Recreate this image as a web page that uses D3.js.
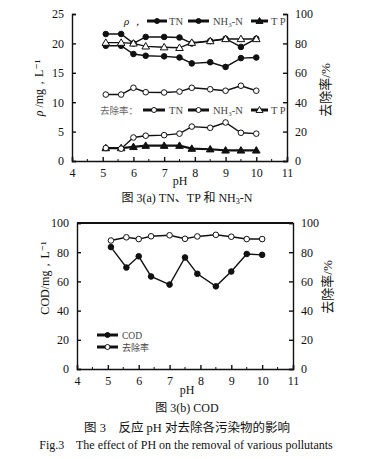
<!DOCTYPE html>
<html>
<head>
<meta charset="utf-8">
<script src="https://cdn.jsdelivr.net/npm/d3@7"></script>
<style>
body{margin:0;background:#fff;}
text{font-family:"Liberation Serif","DejaVu Serif",serif;fill:#111;}
.cjk{font-family:"Liberation Serif","Noto Sans CJK SC",serif;}
</style>
</head>
<body>
<div id="chart"></div>
<script>
// pH values (shared by both panels)
var ph = [5.1, 5.6, 6.0, 6.4, 7.0, 7.5, 7.9, 8.5, 9.0, 9.5, 10.0];

// panel (a): concentrations, mg/L (left axis)
var tnConc  = [21.6, 21.6, 20.0, 21.1, 21.1, 21.0, 20.0, 20.4, 20.8, 19.4, 20.8];
var nh3Conc = [19.6, 19.6, 18.2, 17.9, 17.8, 17.6, 16.6, 16.8, 16.0, 17.5, 17.6];
var tpConc  = [2.2, 2.2, 2.4, 2.6, 2.6, 2.6, 2.1, 2.0, 1.8, 1.8, 1.8];
// panel (a): removal rates, % (right axis)
var tnRate  = [45.2, 45.2, 49.8, 46.8, 46.6, 47.2, 49.8, 48.8, 47.8, 51.2, 47.8];
var nh3Rate = [8.8, 8.4, 16.0, 17.2, 17.6, 18.6, 23.4, 22.6, 26.2, 19.2, 18.6];
var tpRate  = [80.5, 80.5, 80.0, 78.0, 77.4, 77.0, 80.5, 81.6, 83.0, 83.0, 83.0];

// panel (b): COD mg/L (left) and removal % (right)
var codConc = [83.5, 69.5, 77.2, 63.4, 57.8, 76.4, 65.2, 56.6, 66.8, 78.8, 78.2];
var codRate = [88.0, 90.2, 89.0, 90.9, 91.6, 89.2, 90.8, 91.9, 90.6, 89.0, 89.0];

var xTicks = [4, 5, 6, 7, 8, 9, 10, 11];
var leftTicksA = [0, 5, 10, 15, 20, 25];
var rightTicks = [0, 20, 40, 60, 80, 100];

var svg = d3.select("#chart").append("svg")
  .attr("width", 373)
  .attr("height", 459);

function drawAxes(x, yl, yr, lt, hasTop){
  var g = svg.append("g");
  var y0 = yl.range()[0], y1 = yl.range()[1];
  var ax = g.append("g").attr("transform", "translate(0," + y0 + ")")
    .call(d3.axisBottom(x).tickValues(xTicks).tickSize(-4).tickPadding(7).tickFormat(d3.format("d")));
  var al = g.append("g").attr("transform", "translate(" + x.range()[0] + ",0)")
    .call(d3.axisLeft(yl).tickValues(lt).tickSize(-4).tickPadding(8));
  var ar = g.append("g").attr("transform", "translate(" + x.range()[1] + ",0)")
    .call(d3.axisRight(yr).tickValues(rightTicks).tickSize(-4).tickPadding(8));
  [ax, al, ar].forEach(function(a){
    a.select(".domain").attr("stroke", "#111").attr("stroke-width", 1.4);
    a.selectAll(".tick line").attr("stroke", "#111").attr("stroke-width", 1.4);
    a.selectAll(".tick text").attr("font-size", 12).style("font-family", "'Liberation Serif', serif").attr("fill", "#111");
  });
  // minor ticks
  var minorX = d3.range(4.5, 11, 1);
  g.selectAll(".mx").data(minorX).enter().append("line")
    .attr("x1", function(d){ return x(d); }).attr("x2", function(d){ return x(d); })
    .attr("y1", y0).attr("y2", y0 - 2).attr("stroke", "#111");
  if(hasTop){
    g.append("line").attr("x1", x.range()[0]).attr("x2", x.range()[1])
      .attr("y1", y1).attr("y2", y1).attr("stroke", "#111").attr("stroke-width", 2.2);
  }
  return g;
}

function drawSeries(x, y, vals, marker, filled, sw){
  var pts = ph.map(function(p, i){ return [p, vals[i]]; });
  var line = d3.line().x(function(d){ return x(d[0]); }).y(function(d){ return y(d[1]); });
  svg.append("path").datum(pts)
    .attr("d", line).attr("fill", "none").attr("stroke", "#111").attr("stroke-width", sw || 1.4);
  drawMarkers(pts.map(function(d){ return [x(d[0]), y(d[1])]; }), marker, filled);
}

function drawMarkers(pos, marker, filled, r){
  r = r || 2.8;
  pos.forEach(function(p){
    if(marker === "circle"){
      svg.append("circle").attr("cx", p[0]).attr("cy", p[1]).attr("r", r)
        .attr("fill", filled ? "#111" : "#fff").attr("stroke", "#111").attr("stroke-width", 1);
    } else {
      var s = r + 1;
      svg.append("path")
        .attr("d", "M" + p[0] + "," + (p[1] - s) + "L" + (p[0] + s) + "," + (p[1] + s * 0.7) + "L" + (p[0] - s) + "," + (p[1] + s * 0.7) + "Z")
        .attr("fill", filled ? "#111" : "#fff").attr("stroke", "#111").attr("stroke-width", 1);
    }
  });
}

function legendItem(x1, x2, y, marker, filled, tx){
  svg.append("line").attr("x1", x1).attr("x2", x2).attr("y1", y).attr("y2", y)
    .attr("stroke", "#111").attr("stroke-width", 3);
  drawMarkers([[(x1 + x2) / 2, y]], marker, filled, 2.5);
  return svg.append("text").attr("x", tx).attr("y", y + 3.5).attr("font-size", 10.5).style("fill", "#444");
}

// ---------- panel (a)
var xa = d3.scaleLinear().domain([4, 11]).range([72, 287]);
var ya = d3.scaleLinear().domain([0, 25]).range([161, 14]);
var ra = d3.scaleLinear().domain([0, 100]).range([161, 14]);
drawAxes(xa, ya, ra, leftTicksA, false);

drawSeries(xa, ya, tnConc, "circle", true);
drawSeries(xa, ya, nh3Conc, "circle", true);
drawSeries(xa, ya, tpConc, "tri", true, 2.2);
drawSeries(xa, ra, tnRate, "circle", false);
drawSeries(xa, ra, nh3Rate, "circle", false);
drawSeries(xa, ra, tpRate, "tri", false);

// legend (a)
svg.append("text").attr("x", 124).attr("y", 24.5).attr("font-size", 11).attr("font-style", "italic").text("ρ ，");
legendItem(147, 167, 21, "circle", true, 169).text("TN");
legendItem(188, 209, 21, "circle", true, 213).text("NH₃-N");
legendItem(251, 268, 21, "tri", true, 271).attr("xml:space", "preserve").text("T P");
svg.append("text").attr("class", "cjk").attr("x", 100).attr("y", 113.5).attr("font-size", 9.5).style("fill", "#666").text("去除率：");
legendItem(143, 165, 110, "circle", false, 169).text("TN");
legendItem(188, 209, 110, "circle", false, 213).text("NH₃-N");
legendItem(251, 268, 110, "tri", false, 271).attr("xml:space", "preserve").text("T P");

// axis titles (a)
svg.append("text").attr("transform", "translate(43,88) rotate(-90)").attr("text-anchor", "middle")
  .attr("font-size", 12).html("<tspan font-style='italic'>ρ</tspan> /mg，L⁻¹");
svg.append("text").attr("class", "cjk").attr("transform", "translate(330,90) rotate(-90)")
  .attr("text-anchor", "middle").attr("font-size", 13).text("去除率/%");
svg.append("text").attr("x", 180).attr("y", 185).attr("text-anchor", "middle").attr("font-size", 12).text("pH");
svg.append("text").attr("class", "cjk").attr("x", 187).attr("y", 202).attr("text-anchor", "middle")
  .attr("font-size", 12).html("图 3(a) TN、TP 和 NH<tspan font-size='8' dy='2'>3</tspan><tspan dy='-2'>-N</tspan>");

// ---------- panel (b)
var xb = d3.scaleLinear().domain([4, 11]).range([77, 293]);
var yb = d3.scaleLinear().domain([0, 100]).range([369, 223]);
var rb = d3.scaleLinear().domain([0, 100]).range([369, 223]);
drawAxes(xb, yb, rb, rightTicks, true);

drawSeries(xb, yb, codConc, "circle", true);
drawSeries(xb, rb, codRate, "circle", false);

legendItem(97, 118, 335, "circle", true, 122).attr("font-size", 9.5).text("COD");
legendItem(97, 118, 347, "circle", false, 122).attr("class", "cjk").attr("font-size", 9).text("去除率");

svg.append("text").attr("transform", "translate(49,278) rotate(-90)").attr("text-anchor", "middle")
  .attr("font-size", 12).text("COD/mg，L⁻¹");
svg.append("text").attr("class", "cjk").attr("transform", "translate(332,287) rotate(-90)")
  .attr("text-anchor", "middle").attr("font-size", 13).text("去除率/%");
svg.append("text").attr("x", 187).attr("y", 394).attr("text-anchor", "middle").attr("font-size", 12).text("pH");
svg.append("text").attr("class", "cjk").attr("x", 187).attr("y", 412).attr("text-anchor", "middle")
  .attr("font-size", 12).text("图 3(b) COD");
svg.append("text").attr("class", "cjk").attr("x", 187).attr("y", 432).attr("text-anchor", "middle")
  .attr("font-size", 12.5).attr("xml:space", "preserve").text("图 3    反应 pH 对去除各污染物的影响");
svg.append("text").attr("x", 186).attr("y", 449).attr("text-anchor", "middle")
  .attr("font-size", 12).attr("xml:space", "preserve").text("Fig.3    The effect of PH on the removal of various pollutants");
</script>
</body>
</html>
